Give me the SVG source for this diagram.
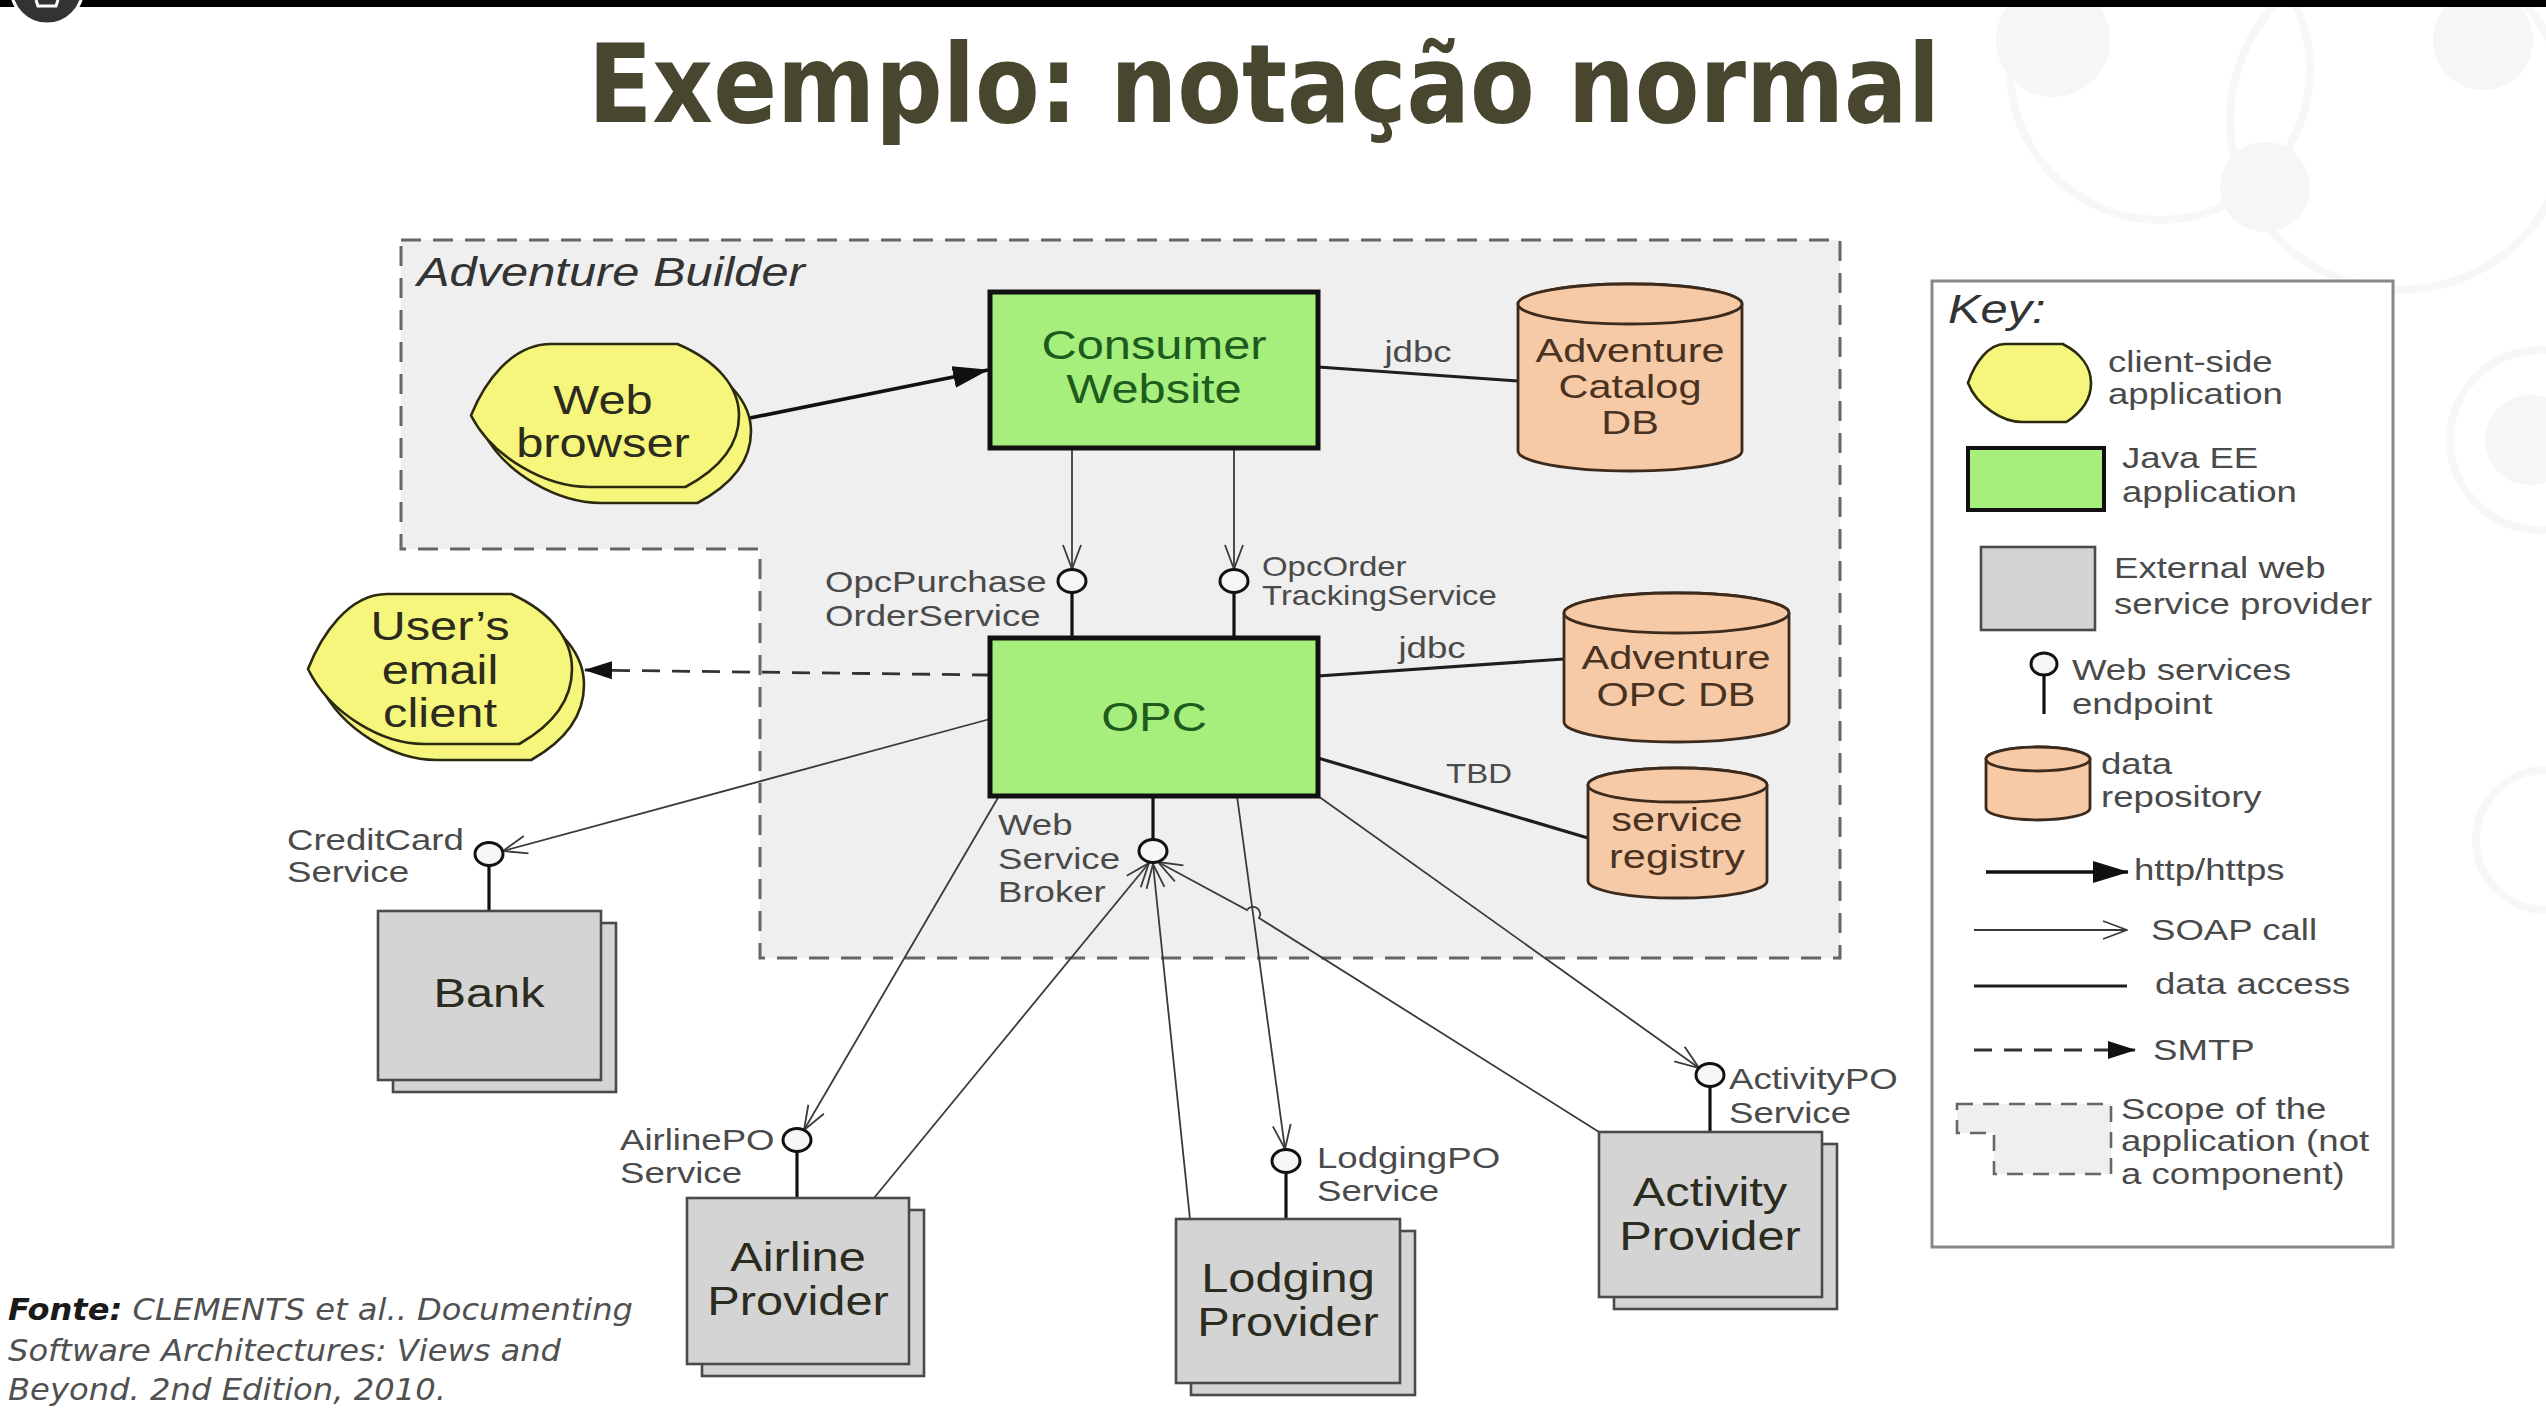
<svg xmlns="http://www.w3.org/2000/svg" width="2546" height="1428" viewBox="0 0 2546 1428">
  <defs>
    <style>
      .t { font-family: "Liberation Sans", Arial, Helvetica, sans-serif; }
      .n40 { font-size: 40px; text-anchor: middle; fill: #2b2b1e; }
      .gtx { fill: #1d5c1d; }
      .c34 { font-size: 34px; text-anchor: middle; fill: #4a3222; }
      .l30 { font-size: 30px; fill: #4a4a4a; }
      .l27 { font-size: 27px; fill: #4a4a4a; }
      .mid { text-anchor: middle; }
      .it40 { font-size: 40px; font-style: italic; fill: #333; }
      .green { fill: #a7ef7c; stroke: #111; stroke-width: 5; }
      .client { fill: #f7f67c; stroke: #2a2a10; stroke-width: 2.6; }
      .ext { fill: #d4d4d4; stroke: #4a4a4a; stroke-width: 2.6; }
      .db { fill: #f6caa6; stroke: #3c2a1c; stroke-width: 2.8; }
      .ep { fill: #f6f6f6; stroke: #111; stroke-width: 3; }
      .stem { stroke: #111; stroke-width: 3.2; fill: none; }
      .soap { fill: none; stroke: #3a3a3a; stroke-width: 1.8; marker-end: url(#soapHead); }
      .data { stroke: #1e1e1e; stroke-width: 3.2; fill: none; }
      .http { stroke: #111; stroke-width: 3.6; fill: none; marker-end: url(#httpHead); }
      .smtp { stroke: #333; stroke-width: 2.8; fill: none; stroke-dasharray: 18 12; marker-end: url(#smtpHead); }
      .scope { fill: #efefef; stroke: #666; stroke-width: 3; stroke-dasharray: 20 12; }
      .fn { font-family: "DejaVu Sans", Verdana, sans-serif; font-size: 30px; font-style: italic; fill: #505050; }
      .fnb { font-weight: bold; fill: #1a1a1a; }
      .deco { fill: #f6f6f6; }
      .decoring { fill: none; stroke: #f7f7f7; stroke-width: 8; }
    </style>
    <marker id="soapHead" markerUnits="userSpaceOnUse" markerWidth="26" markerHeight="22" viewBox="0 0 26 22" refX="25" refY="11" orient="auto">
      <path d="M1,2 L25,11 L1,20" fill="none" stroke="#3a3a3a" stroke-width="1.8"/>
    </marker>
    <marker id="httpHead" markerUnits="userSpaceOnUse" markerWidth="36" markerHeight="24" viewBox="0 0 36 24" refX="35" refY="12" orient="auto">
      <path d="M0,1 L36,12 L0,23 Z" fill="#111"/>
    </marker>
    <marker id="smtpHead" markerUnits="userSpaceOnUse" markerWidth="28" markerHeight="20" viewBox="0 0 28 20" refX="27" refY="10" orient="auto">
      <path d="M0,1 L28,10 L0,19 Z" fill="#111"/>
    </marker>
  </defs>

  <!-- page background -->
  <rect x="0" y="0" width="2546" height="1428" fill="#ffffff"/>

  <!-- faint decorative circles on the right -->
  <g id="decoration">
    <circle class="decoring" cx="2160" cy="70" r="150"/>
    <circle class="deco" cx="2053" cy="40" r="57"/>
    <circle class="decoring" cx="2400" cy="120" r="170"/>
    <circle class="deco" cx="2483" cy="40" r="50"/>
    <circle class="deco" cx="2265" cy="187" r="45"/>
    <circle class="decoring" cx="2540" cy="440" r="90"/>
    <circle class="deco" cx="2530" cy="440" r="45"/>
    <circle class="decoring" cx="2546" cy="840" r="70"/>
  </g>

  <!-- top bar and corner badge -->
  <rect x="0" y="0" width="2546" height="7" fill="#000"/>
  <circle cx="47" cy="-12" r="36" fill="#333" stroke="#fff" stroke-width="3"/>
  <path d="M36,0 L38,6 L56,6 L58,0" fill="none" stroke="#fff" stroke-width="3"/>

  <!-- title -->
  <text x="588" y="122" font-family="'DejaVu Sans', Verdana, sans-serif" font-weight="bold" font-size="108" fill="#48462f" textLength="1352" lengthAdjust="spacingAndGlyphs">Exemplo: notação normal</text>

  <!-- application scope -->
  <g id="scope">
    <path class="scope" d="M401,240 H1840 V958 H760 V549 H401 Z"/>
    <text class="t it40" transform="matrix(1.22 0 0 1 417 286)">Adventure Builder</text>
  </g>

  <!-- connectors -->
  <g id="connectors">
    <!-- http -->
    <line class="http" x1="740" y1="420" x2="988" y2="370"/>
    <!-- data access -->
    <line class="data" x1="1318" y1="367" x2="1518" y2="381"/>
    <line class="data" x1="1318" y1="676" x2="1564" y2="659"/>
    <line class="data" x1="1318" y1="758" x2="1588" y2="838"/>
    <!-- SMTP -->
    <line class="smtp" x1="990" y1="675" x2="585" y2="670"/>
    <!-- SOAP calls from the web site to OPC -->
    <line class="soap" x1="1072" y1="448" x2="1072" y2="569"/>
    <line class="soap" x1="1234" y1="448" x2="1234" y2="569"/>
    <!-- SOAP calls from OPC to providers -->
    <line class="soap" x1="990" y1="719" x2="503" y2="851"/>
    <line class="soap" x1="999" y1="796" x2="804" y2="1130"/>
    <line class="soap" x1="1237" y1="796" x2="1285" y2="1149"/>
    <line class="soap" x1="1318" y1="796" x2="1699" y2="1068"/>
    <!-- SOAP calls from providers to the broker -->
    <line class="soap" x1="874" y1="1198" x2="1149" y2="863"/>
    <line class="soap" x1="1190" y1="1219" x2="1153" y2="864"/>
    <path class="soap" d="M1599,1132 L1259,918 A7,7 0 0 0 1247,910 L1158,862"/>
  </g>

  <!-- Web browser -->
  <g id="web-browser">
    <path class="client" d="M483,431.5 C496,399 523,360 563.4,360 L689.4,360 C729.6,377.2 751,402.9 751,431.5 C751,463 729.6,485.8 697.4,503 L600.9,503 C558,503 505,474 483,431.5 Z"/>
    <path class="client" d="M471,415.5 C484,383 511,344 551.4,344 L677.4,344 C717.6,361.2 739,386.9 739,415.5 C739,447 717.6,469.8 685.4,487 L588.9,487 C546,487 493,458 471,415.5 Z"/>
    <text class="t n40" transform="matrix(1.22 0 0 1 603 414)">Web</text>
    <text class="t n40" transform="matrix(1.22 0 0 1 603 457)">browser</text>
  </g>

  <!-- Consumer Website -->
  <g id="consumer-website">
    <rect class="green" x="990" y="292" width="328" height="156"/>
    <text class="t n40 gtx" transform="matrix(1.22 0 0 1 1154 359)">Consumer</text>
    <text class="t n40 gtx" transform="matrix(1.22 0 0 1 1154 403)">Website</text>
  </g>

  <!-- Adventure Catalog DB -->
  <g id="catalog-db">
    <path class="db" d="M1518,304 L1518,451 A112,20 0 0 0 1742,451 L1742,304 A112,20 0 0 0 1518,304 Z"/>
    <ellipse class="db" cx="1630" cy="304" rx="112" ry="20"/>
    <text class="t c34" transform="matrix(1.22 0 0 1 1630 362)">Adventure</text>
    <text class="t c34" transform="matrix(1.22 0 0 1 1630 398)">Catalog</text>
    <text class="t c34" transform="matrix(1.22 0 0 1 1630 434)">DB</text>
    <text class="t l30 mid" transform="matrix(1.22 0 0 1 1418 362)">jdbc</text>
  </g>

  <!-- OPC endpoints -->
  <g id="opc-purchase-endpoint">
    <line class="stem" x1="1072" y1="592.5" x2="1072" y2="638"/>
    <ellipse class="ep" cx="1072" cy="581" rx="14" ry="11.5"/>
    <text class="t l30" transform="matrix(1.22 0 0 1 825 592)">OpcPurchase</text>
    <text class="t l30" transform="matrix(1.22 0 0 1 825 626)">OrderService</text>
  </g>
  <g id="opc-tracking-endpoint">
    <line class="stem" x1="1234" y1="592.5" x2="1234" y2="638"/>
    <ellipse class="ep" cx="1234" cy="581" rx="14" ry="11.5"/>
    <text class="t l27" transform="matrix(1.22 0 0 1 1262 576)">OpcOrder</text>
    <text class="t l27" transform="matrix(1.22 0 0 1 1262 605)">TrackingService</text>
  </g>

  <!-- OPC -->
  <g id="opc">
    <rect class="green" x="990" y="638" width="328" height="158"/>
    <text class="t n40 gtx" transform="matrix(1.22 0 0 1 1154 731)">OPC</text>
  </g>

  <!-- Adventure OPC DB -->
  <g id="opc-db">
    <path class="db" d="M1564,613 L1564,722 A112.5,20 0 0 0 1789,722 L1789,613 A112.5,20 0 0 0 1564,613 Z"/>
    <ellipse class="db" cx="1676.5" cy="613" rx="112.5" ry="20"/>
    <text class="t c34" transform="matrix(1.22 0 0 1 1676 669)">Adventure</text>
    <text class="t c34" transform="matrix(1.22 0 0 1 1676 706)">OPC DB</text>
    <text class="t l30 mid" transform="matrix(1.22 0 0 1 1432 658)">jdbc</text>
  </g>

  <!-- service registry -->
  <g id="service-registry">
    <path class="db" d="M1588,785 L1588,881 A89.5,17 0 0 0 1767,881 L1767,785 A89.5,17 0 0 0 1588,785 Z"/>
    <ellipse class="db" cx="1677.5" cy="785" rx="89.5" ry="17"/>
    <text class="t c34" transform="matrix(1.22 0 0 1 1677 831)">service</text>
    <text class="t c34" transform="matrix(1.22 0 0 1 1677 868)">registry</text>
    <text class="t l27 mid" transform="matrix(1.22 0 0 1 1479 783)">TBD</text>
  </g>

  <!-- Web Service Broker endpoint -->
  <g id="web-service-broker">
    <line class="stem" x1="1153" y1="796" x2="1153" y2="839.5"/>
    <ellipse class="ep" cx="1153" cy="851" rx="14" ry="11.5"/>
    <text class="t l30" transform="matrix(1.22 0 0 1 998 835)">Web</text>
    <text class="t l30" transform="matrix(1.22 0 0 1 998 869)">Service</text>
    <text class="t l30" transform="matrix(1.22 0 0 1 998 902)">Broker</text>
  </g>

  <!-- User's email client -->
  <g id="email-client">
    <path class="client" d="M320,685 C333,652 360,610 399.2,610 L523.3,610 C562.9,628 584,655 584,685 C584,718 562.9,742 531.2,760 L436.2,760 C393.9,760 342,730 320,685 Z"/>
    <path class="client" d="M308,669 C321,636 348,594 387.2,594 L511.3,594 C550.9,612 572,639 572,669 C572,702 550.9,726 519.2,744 L424.2,744 C381.9,744 330,714 308,669 Z"/>
    <text class="t n40" transform="matrix(1.22 0 0 1 440 640)">User’s</text>
    <text class="t n40" transform="matrix(1.22 0 0 1 440 684)">email</text>
    <text class="t n40" transform="matrix(1.22 0 0 1 440 727)">client</text>
  </g>

  <!-- Bank -->
  <g id="bank">
    <line class="stem" x1="489" y1="865.5" x2="489" y2="911"/>
    <ellipse class="ep" cx="489" cy="854" rx="14" ry="11.5"/>
    <text class="t l30" transform="matrix(1.22 0 0 1 287 850)">CreditCard</text>
    <text class="t l30" transform="matrix(1.22 0 0 1 287 882)">Service</text>
    <rect class="ext" x="393" y="923" width="223" height="169"/>
    <rect class="ext" x="378" y="911" width="223" height="169"/>
    <text class="t n40" transform="matrix(1.22 0 0 1 489 1007)">Bank</text>
  </g>

  <!-- Airline Provider -->
  <g id="airline-provider">
    <line class="stem" x1="797" y1="1151.5" x2="797" y2="1198"/>
    <ellipse class="ep" cx="797" cy="1140" rx="14" ry="11.5"/>
    <text class="t l30" transform="matrix(1.22 0 0 1 620 1150)">AirlinePO</text>
    <text class="t l30" transform="matrix(1.22 0 0 1 620 1183)">Service</text>
    <rect class="ext" x="702" y="1210" width="222" height="166"/>
    <rect class="ext" x="687" y="1198" width="222" height="166"/>
    <text class="t n40" transform="matrix(1.22 0 0 1 798 1271)">Airline</text>
    <text class="t n40" transform="matrix(1.22 0 0 1 798 1315)">Provider</text>
  </g>

  <!-- Lodging Provider -->
  <g id="lodging-provider">
    <line class="stem" x1="1286" y1="1172.5" x2="1286" y2="1219"/>
    <ellipse class="ep" cx="1286" cy="1161" rx="14" ry="11.5"/>
    <text class="t l30" transform="matrix(1.22 0 0 1 1317 1168)">LodgingPO</text>
    <text class="t l30" transform="matrix(1.22 0 0 1 1317 1201)">Service</text>
    <rect class="ext" x="1191" y="1231" width="224" height="164"/>
    <rect class="ext" x="1176" y="1219" width="224" height="164"/>
    <text class="t n40" transform="matrix(1.22 0 0 1 1288 1292)">Lodging</text>
    <text class="t n40" transform="matrix(1.22 0 0 1 1288 1336)">Provider</text>
  </g>

  <!-- Activity Provider -->
  <g id="activity-provider">
    <line class="stem" x1="1710" y1="1086.5" x2="1710" y2="1132"/>
    <ellipse class="ep" cx="1710" cy="1075" rx="14" ry="11.5"/>
    <text class="t l30" transform="matrix(1.22 0 0 1 1729 1089)">ActivityPO</text>
    <text class="t l30" transform="matrix(1.22 0 0 1 1729 1123)">Service</text>
    <rect class="ext" x="1614" y="1144" width="223" height="165"/>
    <rect class="ext" x="1599" y="1132" width="223" height="165"/>
    <text class="t n40" transform="matrix(1.22 0 0 1 1710 1206)">Activity</text>
    <text class="t n40" transform="matrix(1.22 0 0 1 1710 1250)">Provider</text>
  </g>

  <!-- legend -->
  <g id="key">
    <rect x="1932" y="281" width="461" height="966" fill="#fff" stroke="#888" stroke-width="3"/>
    <text class="t it40" transform="matrix(1.22 0 0 1 1948 323)">Key:</text>

    <path class="client" d="M1968,383 C1975,362 1989,344 2004.9,344 L2062.7,344 C2081.2,353.4 2091,367.4 2091,383 C2091,400.2 2081.2,412.6 2066.4,422 L2022.1,422 C2002.4,422 1977,406 1968,383 Z"/>
    <text class="t l30" transform="matrix(1.22 0 0 1 2108 372)">client-side</text>
    <text class="t l30" transform="matrix(1.22 0 0 1 2108 404)">application</text>

    <rect x="1968" y="448" width="136" height="62" fill="#a7ef7c" stroke="#111" stroke-width="4"/>
    <text class="t l30" transform="matrix(1.22 0 0 1 2122 468)">Java EE</text>
    <text class="t l30" transform="matrix(1.22 0 0 1 2122 502)">application</text>

    <rect class="ext" x="1981" y="547" width="114" height="83"/>
    <text class="t l30" transform="matrix(1.22 0 0 1 2114 578)">External web</text>
    <text class="t l30" transform="matrix(1.22 0 0 1 2114 614)">service provider</text>

    <line class="stem" x1="2044" y1="675" x2="2044" y2="714"/>
    <ellipse class="ep" cx="2044" cy="664" rx="13" ry="11" fill="#fff"/>
    <text class="t l30" transform="matrix(1.22 0 0 1 2072 680)">Web services</text>
    <text class="t l30" transform="matrix(1.22 0 0 1 2072 714)">endpoint</text>

    <path class="db" d="M1986,759 L1986,808 A52,12 0 0 0 2090,808 L2090,759 A52,12 0 0 0 1986,759 Z"/>
    <ellipse class="db" cx="2038" cy="759" rx="52" ry="12"/>
    <text class="t l30" transform="matrix(1.22 0 0 1 2101 774)">data</text>
    <text class="t l30" transform="matrix(1.22 0 0 1 2101 807)">repository</text>

    <line class="http" x1="1986" y1="872" x2="2128" y2="872"/>
    <text class="t l30" transform="matrix(1.22 0 0 1 2134 880)">http/https</text>

    <line class="soap" x1="1974" y1="930" x2="2127" y2="930"/>
    <text class="t l30" transform="matrix(1.22 0 0 1 2151 940)">SOAP call</text>

    <line class="data" x1="1974" y1="986" x2="2127" y2="986"/>
    <text class="t l30" transform="matrix(1.22 0 0 1 2155 994)">data access</text>

    <line class="smtp" x1="1974" y1="1050" x2="2135" y2="1050"/>
    <text class="t l30" transform="matrix(1.22 0 0 1 2153 1060)">SMTP</text>

    <path d="M1957,1104 H2111 V1174 H1994 V1133 H1957 Z" fill="#efefef" stroke="#666" stroke-width="2.6" stroke-dasharray="16 10"/>
    <text class="t l30" transform="matrix(1.22 0 0 1 2121 1119)">Scope of the</text>
    <text class="t l30" transform="matrix(1.22 0 0 1 2121 1151)">application (not</text>
    <text class="t l30" transform="matrix(1.22 0 0 1 2121 1184)">a component)</text>
  </g>

  <!-- source note -->
  <g id="source">
    <text class="fn" x="8" y="1320" textLength="625" lengthAdjust="spacingAndGlyphs"><tspan class="fnb">Fonte:</tspan> CLEMENTS et al.. Documenting</text>
    <text class="fn" x="8" y="1361" textLength="553" lengthAdjust="spacingAndGlyphs">Software Architectures: Views and</text>
    <text class="fn" x="8" y="1400" textLength="438" lengthAdjust="spacingAndGlyphs">Beyond. 2nd Edition, 2010.</text>
  </g>
</svg>
